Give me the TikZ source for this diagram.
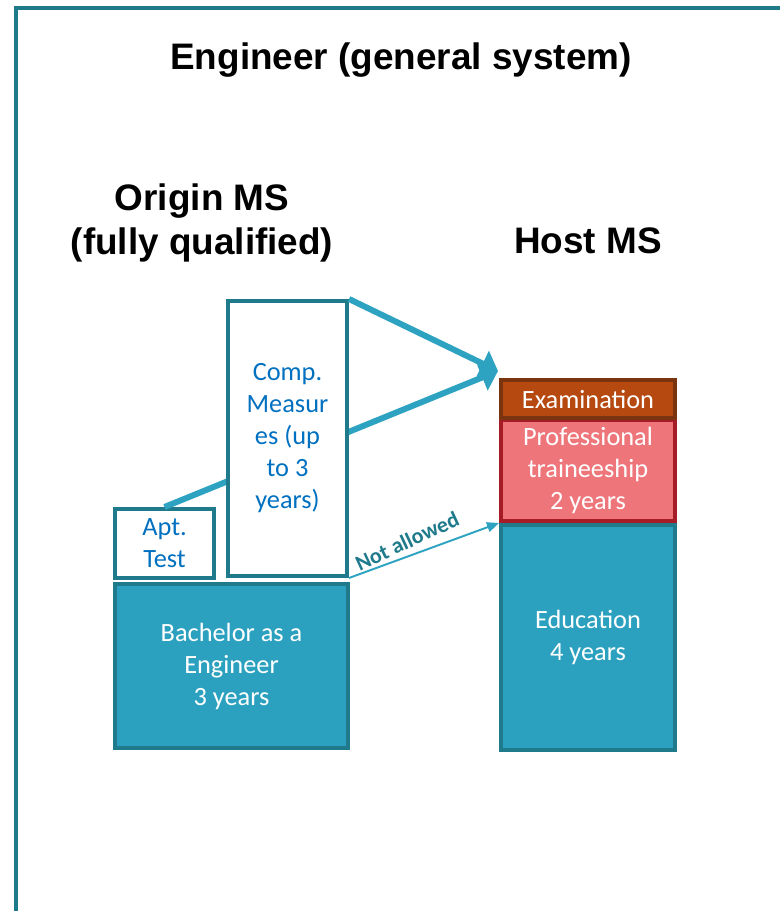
\documentclass[tikz,border=0pt]{standalone}
\usepackage{fontspec}
\setmainfont{Carlito}
\newfontfamily\headfont{Liberation Sans}
\usetikzlibrary{arrows.meta,backgrounds}
\definecolor{tealfill}{HTML}{2CA1BF}
\definecolor{tealline}{HTML}{1F7A8C}
\definecolor{arrowteal}{HTML}{2EA3C1}
\definecolor{compblue}{HTML}{0070C0}
\definecolor{examfill}{HTML}{B5490F}
\definecolor{examline}{HTML}{7B3410}
\definecolor{proffill}{HTML}{EE767B}
\definecolor{profline}{HTML}{A51C26}

\begin{document}
\begin{tikzpicture}[x=0.02cm,y=-0.02cm,
	blk/.style={draw=tealline,line width=2.3pt,align=center,inner sep=0pt,font=\fontsize{15pt}{18.2pt}\selectfont},
	head/.style={align=center,font=\headfont\bfseries\fontsize{21pt}{25.5pt}\selectfont},
	thick arrow/.style={draw=arrowteal,line width=3.4pt,-{Triangle[length=0.34cm,width=0.55cm]}}]
	\useasboundingbox (0,0) rectangle (780,911);
	\draw[tealline,line width=2.8pt] (16,911) |- (780,8);
	\node (title) at (401,60)[head] {Engineer (general system)};
	\node (origin) at (202,223)[head] {Origin MS\\(fully qualified)};
	\node (host) at (588,241)[head] {Host MS};
	\node (bach) at (231.5,666)[blk,fill=tealfill,text=white,minimum width=4.66cm,minimum height=3.28cm] {Bachelor as a\\Engineer\\3 years};
	\node (apt) at (164.5,543.5)[blk,fill=white,text=compblue,minimum width=1.98cm,minimum height=1.38cm] {Apt.\\Test};
	\node (edu) at (588,637.5)[blk,fill=tealfill,text=white,minimum width=3.48cm,minimum height=4.5cm] {Education\\4 years};
	\node (prof) at (588,470.5)[blk,draw=profline,fill=proffill,text=white,minimum width=3.48cm,minimum height=2.02cm] {Professional\\traineeship\\2 years};
	\node (exam) at (588,399)[blk,draw=examline,fill=examfill,text=white,minimum width=3.48cm,minimum height=0.76cm] {Examination};
	\coordinate (tip) at (498,371);
	\draw[thick arrow] (apt.north) -- (tip);
	\node (comp) at (287.5,438.5)[blk,fill=white,text=compblue,minimum width=2.38cm,minimum height=5.5cm] {Comp.\\Measur\\es (up\\to 3\\years)};
	\draw[thick arrow] (comp.north east) -- (tip);
	\draw[arrowteal,line width=1.1pt,-{Triangle[length=0.24cm,width=0.2cm]}] (comp.south east) -- (edu.north west);
	\node (notallowed) at (407,541)[rotate=25,text=tealline,font=\bfseries\fontsize{12.5pt}{15pt}\selectfont] {Not allowed};
\end{tikzpicture}
\end{document}
